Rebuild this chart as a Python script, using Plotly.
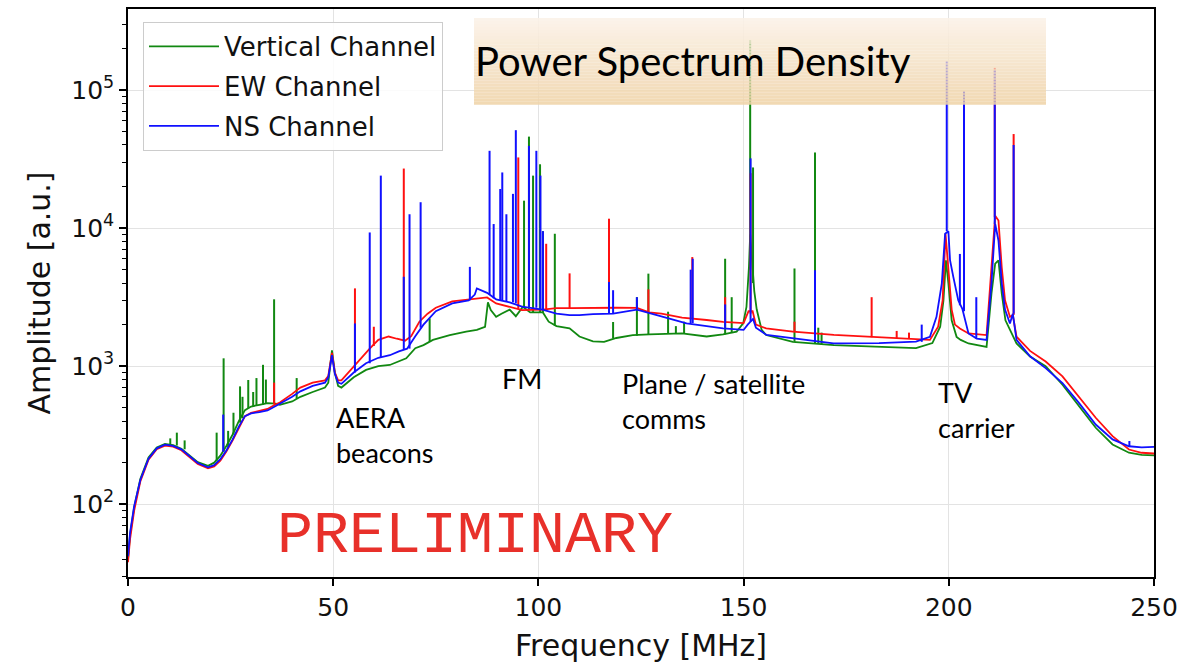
import plotly.graph_objects as go

# ---------------- data ----------------
# Vertical channel (green) smooth spectrum
green_f = [0.0, 0.5, 1.5, 3, 5, 7, 9, 11, 13, 15, 17, 19.5, 21, 22.5, 24, 25.5, 27, 28.5, 30, 32, 34, 36, 37,
           40, 42, 45, 48, 48.8, 49.7, 50.4, 51.2, 52, 55, 58, 61, 63.8, 66, 67.8, 70, 72, 74.3, 78.4, 82.4, 85,
           87, 87.7, 88.4, 89.7, 91, 93, 94.5, 96.2, 98, 101.1, 102.5, 104.4, 107.6, 110, 113.3, 116, 119, 123,
           127, 135, 141, 145, 148.3, 149.9, 150.7, 151.3, 151.6, 152.0, 152.6, 153.2, 154.4, 155.5, 162, 172,
           183, 192, 196, 197.9, 198.7, 199.3, 199.9, 200.7, 201.9, 202.9, 204.8, 209.2, 210.4, 211.3, 212.1,
           212.9, 213.8, 215.4, 216.5, 219.8, 223.6, 227.7, 231.7, 235.8, 239.9, 243.9, 247, 250]
green_a = [40, 60, 95, 152, 218, 258, 273, 268, 252, 226, 202, 190, 200, 225, 265, 320, 400, 480, 510, 525, 540, 535, 525,
           555, 600, 650, 700, 760, 1300, 900, 720, 700, 830, 940, 1000, 1020, 1080, 1140, 1350, 1420, 1550, 1680, 1780, 1830,
           1930, 2900, 2550, 2280, 2400, 2570, 2300, 2690, 2450, 2450, 2100, 1950, 1880, 1640, 1510, 1500, 1600, 1680,
           1700, 1730, 1640, 1700, 1780, 2040, 2690, 5200, 9000, 6000, 3500, 2570, 1830, 1680, 1500, 1420,
           1390, 1350, 1470, 1930, 3000, 5850, 3980, 2150, 1630, 1550, 1460, 1380, 3360, 5520, 5850,
           3360, 2150, 1730, 1460, 1175, 1000, 734, 513, 358, 271, 236, 228, 226]

# EW channel (red) smooth spectrum
red_f = [0, 0.5, 1.5, 3, 5, 7, 9, 11, 13, 15, 17, 19.5, 21, 22.5, 24, 25.5, 27, 28.5, 30, 32, 34, 36, 37, 40, 42, 45,
         48, 48.8, 49.7, 50.4, 51.2, 52, 55, 57, 59, 61, 63.5, 65.5, 67.5, 69, 71, 73, 75, 79, 83, 86, 87.5, 89.7, 93,
         96, 101, 104.4, 107.6, 113, 119, 124, 127, 130, 135, 141, 145, 150, 151.2, 152.2, 153, 155.5, 162, 172, 183,
         192, 195.4, 197.4, 198.5, 199.2, 199.9, 200.7, 201.5, 202.7, 204.8, 209.2, 210.4, 211.3, 212.1, 212.9, 213.7,
         214.9, 215.6, 216.5, 219.8, 223.6, 227.7, 231.7, 235.8, 239.9, 243.9, 247, 250]
red_a = [38, 56, 90, 146, 210, 250, 266, 261, 246, 220, 196, 182, 188, 207, 242, 290, 360, 435, 460, 472, 490, 530, 545, 630, 699, 760,
         790, 850, 1250, 900, 790, 790, 1000, 1150, 1350, 1550, 1640, 1580, 1530, 1650, 2100, 2400, 2650, 2950, 3050, 3100, 3150, 2850, 2700,
         2550, 2570, 2630, 2630, 2650, 2650, 2640, 2450, 2400, 2250, 2160, 2090, 2050, 2500, 2500, 2000, 1876, 1780, 1683, 1622,
         1567, 1550, 1930, 3000, 9100, 5200, 2570, 2000, 1876, 1727, 1680, 5200, 12300, 11350, 5200, 3000,
         2275, 2350, 1634, 1290, 1080, 843, 603, 423, 311, 249, 236, 233]

# NS channel (blue) smooth spectrum
blue_f = [0, 0.5, 1.5, 3, 5, 7, 9, 11, 13, 15, 17, 19.5, 21, 22.5, 24, 25.5, 27, 28.5, 30, 32, 34, 36, 37, 40, 42, 45,
          48, 48.8, 49.7, 50.4, 51.2, 52, 55, 58, 61, 63.8, 66, 68, 70, 72, 75, 79, 83, 84.5, 85, 86, 87.5, 89.7, 93, 96,
          101, 104.4, 107.6, 110, 113.3, 118.2, 124, 130.4, 136.1, 141, 145, 150, 151, 152.3, 153, 155.6, 162.1, 171.9,
          183, 192, 195.4, 197, 198.3, 199.1, 199.9, 200.3, 201.1, 202.3, 203.3, 204.8, 206.8, 209.2, 210.4, 211.3,
          212.1, 212.9, 213.7, 214.9, 215.6, 216.5, 219.8, 223.6, 227.7, 231.7, 235.8, 239.9, 243.9, 247, 250]
blue_a = [42, 62, 97, 150, 214, 254, 270, 265, 250, 224, 199, 185, 192, 212, 246, 295, 365, 435, 455, 465, 478, 515, 535, 600, 657, 720,
          760, 830, 1200, 880, 760, 745, 900, 1050, 1150, 1200, 1280, 1340, 1650, 2000, 2500, 2850, 3000, 3300, 3650, 3550, 3400, 3050, 2900, 2700,
          2570, 2400, 2344, 2340, 2380, 2400, 2570, 2275, 2040, 1950, 1876, 1830, 2000, 2200, 1900, 1683, 1585, 1463,
          1469, 1507, 1634, 2275, 3980, 9100, 9500, 5850, 4430, 3000, 2600, 1727, 1585, 1550, 4000, 10700,
          8140, 4000, 2570, 2040, 2400, 1550, 1180, 968, 755, 542, 378, 295, 263, 258, 260]

# narrow RFI lines: frequency, foot level, peak level
green_spike_f = [10.3, 11.9, 13.8, 21.6, 23.3, 24.4, 25.7, 27.3, 27.9, 29.3, 30.5, 31.3, 32.9, 33.6, 35.6, 41.1, 73.5,
                 96.5, 97.7, 98.7, 100.4, 101.1, 104.0, 118.2, 124.0, 126.8, 131.6, 133.5, 135.5, 145.5, 147.1,
                 151.6, 152.3, 162.4, 167.4, 168.2, 169.0]
green_spike_base = [272, 266, 250, 205, 240, 260, 320, 390, 420, 495, 510, 515, 525, 535, 540, 580, 1500,
                    2650, 2550, 2450, 2450, 2450, 1960, 1590, 1660, 1700, 1720, 1720, 1730, 1700, 1740,
                    5000, 4000, 1500, 1460, 1450, 1440]
green_spike_peak = [300, 330, 290, 330, 1140, 340, 460, 714, 600, 794, 650, 820, 1023, 800, 3050, 820, 2220,
                    15800, 46000, 24000, 29000, 9500, 9100, 2090, 3160, 4680, 2480, 1950, 2100, 6000, 3160,
                    230000, 27500, 5100, 35300, 1900, 1750]

red_spike_f = [35.6, 55.3, 59.9, 67.2, 95.1, 101.9, 107.6, 117.2, 126.8, 137.5, 145.5, 151.7, 162.4, 181.2, 187.3,
               190.3, 211.2, 215.8]
red_spike_base = [530, 1000, 1400, 1530, 2600, 2570, 2630, 2650, 2450, 2220, 2090, 2400, 1780, 1620, 1600,
                  1580, 12000, 2350]
red_spike_peak = [760, 3660, 1930, 27000, 32500, 7700, 4700, 11700, 3600, 6170, 3160, 25000, 2100, 3160, 1800,
                  1750, 145000, 48000]

blue_spike_f = [23.2, 55.3, 58.9, 61.6, 67.2, 68.6, 71.3, 83.3, 88.1, 89.1, 90.7, 91.2, 92.2, 93.8, 94.5, 97.7, 99.5,
                100.5, 101.1, 117.2, 118.2, 124.0, 137.1, 137.6, 145.5, 151.7, 167.4, 193.4, 199.5, 202.7, 203.7,
                206.7, 211.2, 215.8, 244.0]
blue_spike_base = [240, 900, 1050, 1150, 1330, 1340, 1900, 3000, 3300, 3100, 3000, 3000, 2950, 2900, 2850, 2700, 2650,
                   2600, 2570, 2400, 2400, 2570, 2050, 2050, 1900, 2100, 1500, 1500, 9500, 2760, 2500,
                   1585, 10700, 2400, 263]
blue_spike_peak = [446, 2040, 9300, 24000, 4440, 12600, 15400, 5240, 36300, 10700, 19200, 25300, 12600, 17700, 51200,
                   39400, 36300, 24000, 9500, 4070, 3550, 3160, 5000, 6000, 2800, 32000, 4950, 2000, 162000, 6500,
                   98000, 3160, 140000, 40000, 287]

channel_names = ["Vertical Channel", "EW Channel", "NS Channel"]
x_ticks = [0, 50, 100, 150, 200, 250]
y_ticks = [1e2, 1e3, 1e4, 1e5]
y_tick_text = ["10<sup>2</sup>", "10<sup>3</sup>", "10<sup>4</sup>", "10<sup>5</sup>"]

# ---------------- figure ----------------
W, H = 1190, 665
L, R, T, B = 128, 1154, 7, 577


def xp(px):
    return (px - L) / (R - L)


def yp(py):
    return (B - py) / (B - T)


fig = go.Figure()


def add_channel(name, color, f, a, sf, sb, sp):
    fig.add_trace(go.Scatter(x=f, y=a, mode="lines", name=name, legendgroup=name,
                             line=dict(color=color, width=1.8)))
    xs, ys = [], []
    for x0, b, p in zip(sf, sb, sp):
        xs += [x0, x0, None]
        ys += [b, p, None]
    fig.add_trace(go.Scatter(x=xs, y=ys, mode="lines", showlegend=False, legendgroup=name,
                             line=dict(color=color, width=2.0), connectgaps=False))


add_channel(channel_names[0], "#118811", green_f, green_a, green_spike_f, green_spike_base, green_spike_peak)
add_channel(channel_names[1], "#FF1010", red_f, red_a, red_spike_f, red_spike_base, red_spike_peak)
add_channel(channel_names[2], "#1010FF", blue_f, blue_a, blue_spike_f, blue_spike_base, blue_spike_peak)

minor_vals = [m * 10 ** e for e in range(1, 6) for m in range(2, 10)]

axis_font = dict(family="DejaVu Sans", size=25, color="#111111")
fig.update_layout(
    width=W, height=H,
    margin=dict(l=L, r=W - R, t=T, b=H - B),
    plot_bgcolor="white", paper_bgcolor="white",
    legend=dict(x=xp(143), y=yp(20), xanchor="left", yanchor="top",
                bgcolor="rgba(255,255,255,0.85)", bordercolor="#CCCCCC", borderwidth=1,
                font=dict(family="DejaVu Sans", size=26, color="#111111"),
                traceorder="grouped", tracegroupgap=3, itemwidth=70),
)
fig.update_xaxes(range=[0, 250], tickvals=x_ticks, showline=True, linecolor="black", linewidth=1.5, mirror=True,
                 ticks="outside", ticklen=7, tickwidth=1.5, tickcolor="black",
                 showgrid=True, gridcolor="#E3E3E3", gridwidth=1, zeroline=False, tickfont=axis_font,
                 title=dict(text="Frequency [MHz]", font=dict(family="DejaVu Sans", size=30, color="#111111"),
                            standoff=14))
fig.update_yaxes(type="log", range=[1.473, 5.587], tickvals=y_ticks, ticktext=y_tick_text,
                 showline=True, linecolor="black", linewidth=1.5, mirror=True,
                 ticks="outside", ticklen=7, tickwidth=1.5, tickcolor="black",
                 showgrid=True, gridcolor="#E3E3E3", gridwidth=1, zeroline=False, tickfont=axis_font,
                 minor=dict(tickvals=minor_vals, ticks="outside", ticklen=4, tickwidth=1, tickcolor="black",
                            showgrid=False),
                 title=dict(text="Amplitude [a.u.]", font=dict(family="DejaVu Sans", size=30, color="#111111"),
                            standoff=12))

# gradient title box (semi-transparent strips)
box_x0, box_x1, box_y0, box_y1 = 474, 1046, 16, 103
c_top = (251, 242, 232)
c_bot = (239, 211, 168)
n = (box_y1 - box_y0)
step = 3
for i in range(0, n, step):
    t = (i + step / 2) / n
    c = tuple(int(round(c_top[k] + (c_bot[k] - c_top[k]) * t)) for k in range(3))
    fig.add_shape(type="rect", xref="paper", yref="paper",
                  x0=xp(box_x0), x1=xp(box_x1), y0=yp(box_y0 + i), y1=yp(min(box_y0 + i + step, box_y1)),
                  fillcolor="rgb(%d,%d,%d)" % c, opacity=0.88, line=dict(width=0), layer="above")

fig.add_annotation(text="Power Spectrum Density", xref="paper", yref="paper", x=xp(473), y=yp(59),
                   xanchor="left", yanchor="middle", showarrow=False,
                   font=dict(family="Lato", size=40, color="black"))

note_font = dict(family="Lato", size=27, color="black")
notes = [("AERA<br>beacons", 334, 398), ("FM", 500, 359), ("Plane / satellite<br>comms", 620, 364),
         ("TV<br>carrier", 936, 373)]
for txt, px, py in notes:
    fig.add_annotation(text=txt, xref="paper", yref="paper", x=xp(px), y=yp(py), xanchor="left", yanchor="top",
                       align="left", showarrow=False, font=note_font)

fig.add_annotation(text="PRELIMINARY", xref="paper", yref="paper", x=xp(475), y=yp(536),
                   xanchor="center", yanchor="middle", showarrow=False,
                   font=dict(family="Courier New, Liberation Mono, monospace", size=60, color="#E8302A"))

fig.write_html("out.html")
